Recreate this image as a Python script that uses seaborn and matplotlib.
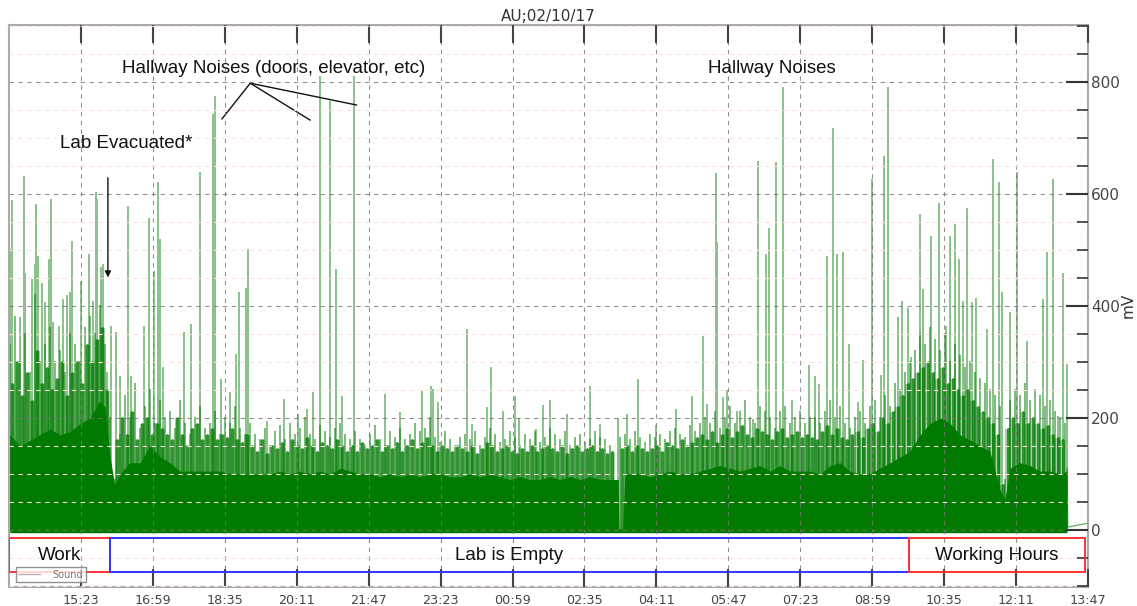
import numpy as np
import pandas as pd
import matplotlib
matplotlib.use('Agg')
import matplotlib.pyplot as plt
import seaborn as sns
from matplotlib.patches import Rectangle
from matplotlib.lines import Line2D
from matplotlib.ticker import MultipleLocator

# time axis: minutes after 13:47 (one full day shown)
tick_minutes = [96, 192, 288, 384, 480, 576, 672, 768, 864, 960, 1056, 1152, 1248, 1344, 1440]
tick_labels = ['15:23', '16:59', '18:35', '20:11', '21:47', '23:23', '00:59', '02:35',
               '04:11', '05:47', '07:23', '08:59', '10:35', '12:11', '13:47']

# solid body of the sound signal (mV)
core_t = [1, 15, 28, 41, 55, 68, 81, 95, 108, 121, 128, 135, 141, 148, 161, 175, 188, 202,
          215, 228, 242, 255, 268, 282, 295, 308, 322, 335, 348, 362, 375, 388, 402, 415,
          428, 442, 455, 468, 482, 495, 508, 522, 535, 549, 562, 575, 589, 602, 615, 629,
          642, 655, 669, 682, 695, 709, 722, 735, 749, 762, 775, 789, 802, 813, 814, 819,
          822, 829, 842, 855, 869, 882, 896, 909, 922, 936, 949, 962, 976, 989, 1002, 1016,
          1029, 1042, 1056, 1069, 1082, 1096, 1109, 1122, 1136, 1149, 1162, 1176, 1189,
          1202, 1216, 1229, 1243, 1256, 1269, 1283, 1296, 1309, 1323, 1329, 1336, 1349,
          1363, 1376, 1389, 1403, 1412]
core_v = [170, 150, 160, 170, 180, 170, 175, 190, 200, 230, 220, 130, 80, 100, 120, 120, 150,
          130, 120, 105, 105, 105, 105, 105, 100, 100, 100, 100, 100, 105, 100, 105, 100, 105,
          100, 110, 105, 100, 100, 95, 100, 95, 100, 95, 100, 100, 95, 95, 100, 95, 100, 95,
          90, 95, 90, 90, 95, 90, 95, 90, 95, 90, 90, 90, 0, 0, 100, 100, 100, 95, 100, 105,
          100, 100, 105, 110, 115, 110, 105, 110, 115, 105, 115, 105, 105, 105, 100, 115, 120,
          105, 100, 100, 110, 120, 130, 140, 170, 190, 200, 190, 170, 160, 150, 140, 70, 55,
          110, 120, 115, 105, 105, 100, 105]

# fuzzy top of the body, one reading every ~6.7 minutes starting at 13:48
fuzz_start = 1.3
fuzz_step = 6.673
fuzz_v = [330, 380, 300, 350, 280, 420, 300, 330, 360, 300, 320, 280, 350, 330, 300, 360, 380, 350, 400, 330,
          200, 90, 170, 240, 200, 260, 180, 220, 250, 190, 230, 200, 210, 180, 230, 190, 170, 200, 220, 180,
          190, 210, 170, 200, 190, 220, 180, 170, 190,
          170, 160, 180, 150, 175, 185, 160, 190, 170, 180, 200, 170, 160, 185, 175, 165, 180, 190, 170, 160,
          175, 160, 150, 170, 185, 160, 150, 175, 165, 180, 160, 170, 190, 175, 180, 200, 165, 155, 175, 160,
          150, 165, 170, 160, 175, 150, 165, 180, 170, 155, 160, 175, 165, 150, 170, 160, 175, 155, 165, 180,
          170, 160, 175, 150, 165, 170, 155, 160, 175, 165, 160, 150, 0, 165, 170, 160, 175, 165, 155, 170,
          165, 170, 160, 175, 180, 170, 165, 185, 175, 190,
          200, 190, 210, 180, 200, 220, 190, 210, 230, 200, 190, 220, 210, 200, 180, 210, 220, 190, 200, 210,
          190, 200,
          200, 190, 210, 230, 200, 220, 190, 180, 200, 210, 190, 220, 230, 200, 240, 220, 260, 250,
          280, 300, 320, 350, 330, 360, 340, 320, 350, 300, 330, 310, 290, 300, 280, 270, 260, 250, 240, 220,
          90, 230, 250, 240, 260, 230, 250, 240, 220, 230, 210, 200, 190]

# lower, denser layer of the body, read half a step later
fuzz_mid_v = [260, 300, 240, 280, 230, 320, 260, 290, 250, 270, 300, 240, 280, 300, 260, 330, 300, 340, 360,
              250, 60, 160, 200, 170, 210, 160, 190, 200, 170, 190, 180, 170, 160, 200, 170, 150, 180, 190,
              160, 170, 180, 160, 170, 165, 180, 160, 155, 170,
              150, 140, 160, 135, 150, 145, 155, 140, 160, 150, 145, 165, 150, 140, 155, 150, 145, 160, 150, 140,
              150, 140, 155, 145, 150, 160, 140, 150, 145, 155, 140, 150, 160, 145, 155, 165, 150, 140, 150, 145,
              140, 150, 145, 140, 150, 135, 145, 155, 150, 140, 145, 150, 140, 135, 145, 140, 150, 140, 145, 150,
              145, 140, 150, 135, 145, 150, 140, 145, 150, 140, 145, 135, 140, 0, 145, 150, 140, 150, 145, 140,
              145, 150, 140, 155, 150, 145, 160, 150, 155, 165,
              170, 160, 175, 155, 170, 180, 165, 175, 185, 170, 165, 180, 175, 170, 160, 175, 180, 165, 170, 175,
              165, 170,
              165, 160, 175, 185, 170, 180, 165, 160, 170, 175, 165, 180, 190, 175, 200, 190, 210, 220,
              240, 260, 270, 280, 290, 300, 280, 270, 290, 260, 270, 250, 240, 250, 230, 220, 210, 200, 190, 170,
              80, 180, 200, 190, 210, 190, 200, 190, 180, 185, 170, 165, 160]

# individual loud events (spikes)
spike_t = [3, 4, 15, 20, 21, 31, 35, 36, 39, 44, 48, 53, 56, 59, 67, 72, 77, 81, 84, 96, 107,
           112, 116, 117, 123, 125, 131, 136, 143, 148, 159, 163, 180, 187, 194, 199, 202, 206,
           234, 243, 255, 272, 275, 283, 295, 303, 307, 316, 319, 344, 367, 386, 398, 406, 415,
           428, 436, 444, 460, 502, 522, 551, 563, 566, 573, 611, 618, 638, 643, 659, 675, 681,
           703, 713, 722, 745, 775, 789, 813, 825, 839, 863, 890, 912, 926, 932, 944, 945, 953,
           958, 972, 993, 1000, 1010, 1014, 1024, 1033, 1045, 1068, 1076, 1081, 1092, 1100,
           1105, 1113, 1121, 1133, 1140, 1152, 1164, 1168, 1173, 1186, 1192, 1200, 1204, 1216,
           1220, 1230, 1241, 1251, 1256, 1263, 1268, 1273, 1279, 1285, 1291, 1305, 1313, 1321,
           1325, 1336, 1345, 1359, 1380, 1385, 1393, 1400, 1407, 1412, 1440]
spike_v = [500, 588, 378, 630, 458, 446, 473, 580, 488, 440, 405, 482, 590, 369, 363, 410, 417,
           423, 515, 443, 491, 408, 602, 589, 467, 473, 280, 363, 351, 274, 576, 274, 362, 555,
           461, 619, 518, 289, 351, 366, 638, 741, 773, 268, 244, 312, 423, 430, 500, 193, 232,
           205, 214, 244, 809, 765, 465, 238, 809, 241, 208, 249, 256, 250, 226, 357, 188, 217,
           289, 210, 238, 198, 179, 221, 231, 205, 256, 188, 199, 205, 268, 186, 215, 237, 344,
           223, 636, 512, 235, 249, 211, 196, 658, 491, 537, 656, 789, 231, 293, 274, 259, 488,
           717, 491, 494, 330, 226, 301, 625, 275, 666, 789, 378, 408, 394, 307, 562, 429, 523,
           583, 363, 524, 545, 482, 408, 574, 406, 413, 357, 661, 619, 423, 387, 637, 336, 411,
           494, 625, 202, 458, 295, 520]

# recording tail after the last sample
tail_t = [1412, 1413, 1440]
tail_v = [110, 5, 12]

green = '#007a00'


def stems(t, h, base=0):
    t = np.asarray(t, dtype=float)
    h = np.asarray(h, dtype=float)
    xs = np.repeat(t, 3)
    ys = np.column_stack([np.full(len(h), base), h, np.full(len(h), base)]).ravel()
    return pd.DataFrame({'minute': xs, 'mV': ys})


fuzz_t = fuzz_start + fuzz_step * np.arange(len(fuzz_v))
mid_t = fuzz_start + fuzz_step * (np.arange(len(fuzz_mid_v)) + 0.5)
fuzz_df = stems(fuzz_t, fuzz_v)
mid_df = stems(mid_t, fuzz_mid_v)
spike_df = stems(spike_t, spike_v)

sns.set_style('white')
plt.rcParams['font.family'] = ['DejaVu Sans']

fig = plt.figure(figsize=(11.37, 6.06), dpi=100)
ax = fig.add_axes([0.00792, 0.03135, 0.94899, 0.92739])

ax.fill_between(core_t, -5, core_v, color=green, lw=0, zorder=1)
ax.fill_between(mid_t, -5, fuzz_mid_v, step='mid', color=green, alpha=0.35, lw=0, zorder=1)
sns.lineplot(data=fuzz_df, x='minute', y='mV', sort=False, estimator=None,
             color=green, lw=1.3, alpha=0.5, ax=ax, legend=False)
sns.lineplot(data=mid_df, x='minute', y='mV', sort=False, estimator=None,
             color=green, lw=1.8, alpha=0.7, ax=ax, legend=False)
sns.lineplot(data=spike_df, x='minute', y='mV', sort=False, estimator=None,
             color=green, lw=1.2, alpha=0.45, ax=ax, legend=False)
ax.plot(tail_t, tail_v, color=green, lw=1, alpha=0.6)

ax.set_xlim(0, 1440)
ax.set_ylim(-102, 902)
ax.set_xlabel('')
ax.set_ylabel('')
ax.set_xticks(tick_minutes)
ax.set_xticklabels(tick_labels)
ax.set_yticks([0, 200, 400, 600, 800])
ax.yaxis.set_minor_locator(MultipleLocator(50))
ax.yaxis.tick_right()
fig.text(1128 / 1137, 1 - 305 / 606, 'mV', rotation=90, ha='center', va='center',
         fontsize=11, color='#333')

ax.set_axisbelow(False)
ax.grid(which='major', axis='both', ls=(0, (4, 4)), color='#777777', lw=0.8, alpha=0.8)
ax.yaxis.grid(which='minor', ls=(0, (4, 4)), color='#ffdede', lw=0.8)

ax.tick_params(axis='x', which='major', direction='in', length=13, width=1.5, color='#444',
               top=True, bottom=True, labelsize=9.2, labelcolor='#444', pad=5)
ax.tick_params(axis='y', which='major', direction='in', length=16, width=1.5, color='#333',
               left=False, right=True, labelsize=11, labelcolor='#444', pad=2)
ax.tick_params(axis='y', which='minor', direction='in', length=8, width=1.2, color='#333',
               left=False, right=True)
for s in ax.spines.values():
    s.set_color('#aaaaaa')
    s.set_linewidth(1.5)

ax.set_title('AU;02/10/17', fontsize=11, color='#333', pad=3)

note = dict(family='Liberation Sans', fontsize=13.5, color='#111')
ax.text(151, 825, 'Hallway Noises (doors, elevator, etc)', ha='left', va='center', **note)
for end in [(284, 734), (402, 732), (464, 759)]:
    ax.plot([322, end[0]], [798, end[1]], color='#111', lw=1)
ax.text(933, 825, 'Hallway Noises', ha='left', va='center', **note)
ax.text(68, 691, 'Lab Evacuated*', ha='left', va='center', **note)
ax.annotate('', xy=(132, 446), xytext=(132, 634),
            arrowprops=dict(arrowstyle='-|>', color='#111', lw=1, mutation_scale=9))

# occupancy periods along the bottom
periods = [(0, 135, '#ff3333', 'Work'), (135, 1201, '#3333ff', 'Lab is Empty'),
           (1201, 1436, '#ff3333', 'Working Hours')]
for start, stop, col, label in periods:
    ax.add_patch(Rectangle((start, -75), stop - start, 61, fill=False, ec=col, lw=1.4, zorder=4))
    ax.text((start + stop) / 2, -45, label, ha='center', va='center', zorder=5, **note)

leg = ax.legend(handles=[Line2D([], [], color='#c8a8a8', lw=1)], labels=['Sound'],
                loc='lower left', bbox_to_anchor=(0.0065, 0.009), borderaxespad=0,
                fontsize=7, frameon=True, fancybox=False, edgecolor='#777',
                handlelength=2.2, handletextpad=1.3, borderpad=0.25, labelcolor='#777')
leg.get_frame().set_linewidth(1)

fig.savefig('out.png', dpi=100)
